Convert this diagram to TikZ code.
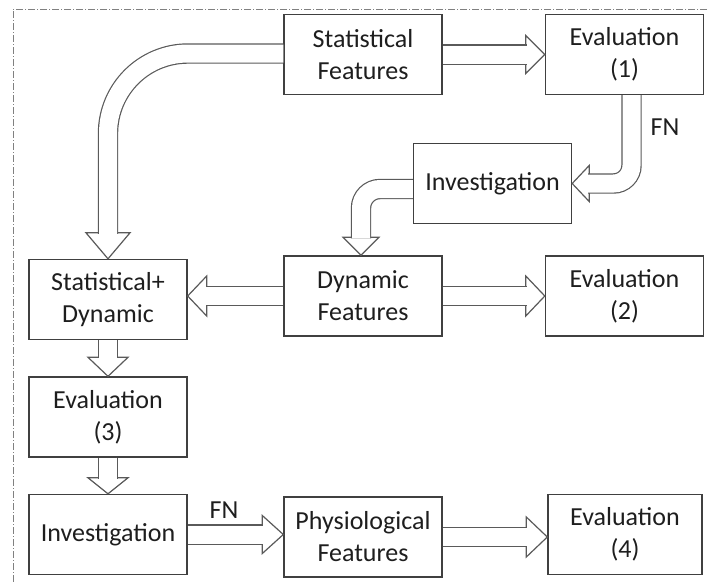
\documentclass[tikz,border=0pt]{standalone}
\usepackage{fontspec}
\setmainfont{Carlito}
\usetikzlibrary{calc}

\definecolor{boxline}{HTML}{404040}
\definecolor{arrowline}{HTML}{5A5A5A}
\definecolor{textgray}{HTML}{1E1E1E}

\tikzset{
  box/.style={draw=boxline, line width=1.4pt, fill=white, minimum width=158pt,
    minimum height=80pt, align=center, inner sep=2pt, text=textgray,
    font=\fontsize{26}{32}\selectfont},
  shaft/.style={draw=arrowline, line width=1.2pt, double=white, double distance=18pt},
  lbl/.style={text=textgray, font=\fontsize{26}{32}\selectfont},
  pics/head/.style 2 args={code={
    \draw[arrowline, line width=1.2pt, fill=white] (0,0) -- (-#1,#2) -- (-#1,-#2) -- cycle;}}
}

\begin{document}
\begin{tikzpicture}[x=1pt, y=-1pt]
    \useasboundingbox (0,0) rectangle (707,582);
    % dash-dot frame
    \draw[gray, line width=0.8pt, dash pattern=on 7pt off 2pt on 1pt off 2pt] (707,9) -- (13,9) -- (13,582);

    \node[box] (sf)   at (363,54.5)  {Statistical\\Features};
    \node[box] (ev1)  at (624.5,54.5) {Evaluation\\(1)};
    \node[box] (inv1) at (492.5,183.5) {Investigation};
    \node[box] (dyn)  at (363,296)   {Dynamic\\Features};
    \node[box] (ev2)  at (624.5,296) {Evaluation\\(2)};
    \node[box] (sd)   at (108,299.5) {Statistical+\\Dynamic};
    \node[box] (ev3)  at (108,417)   {Evaluation\\(3)};
    \node[box] (inv2) at (108,534.5) {Investigation};
    \node[box] (phy)  at (363,537)   {Physiological\\Features};
    \node[box, minimum width=154pt] (ev4) at (625,534.5) {Evaluation\\(4)};

    % arrow heads
    \pic at (ev1.west) {head={19}{19}};
    \pic[rotate=180] at (inv1.east) {head={17}{18}};
    \pic[rotate=-90] at ($(dyn.north)+(-2,0)$) {head={18}{18}};
    \pic[rotate=-90] at (sd.north) {head={26}{22}};
    \pic[rotate=180] at (dyn.west -| sd.east) {head={19}{20}};
    \pic at (ev2.west) {head={19}{20}};
    \pic[rotate=-90] at (ev3.north) {head={19}{20}};
    \pic[rotate=-90] at (inv2.north) {head={16}{20}};
    \pic at (inv2.east -| phy.west) {head={21}{19}};
    \pic at (phy.east -| ev4.west) {head={21}{20}};

    % shafts
    \draw[shaft] (sf.east) -- ($(ev1.west)+(-18,0)$);
    \draw[shaft, rounded corners=18pt] ($(ev1.south)+(7,0)$) |- ($(inv1.east)+(16,0)$);
    \draw[shaft, rounded corners=19pt] ($(inv1.west)+(0,5.5)$) -| ($(dyn.north)+(-2,-17)$);
    \draw[shaft, rounded corners=80pt] ($(sf.west)+(0,-1)$) -| ($(sd.north)+(0,-25)$);
    \draw[shaft] (dyn.west) -- ($(dyn.west -| sd.east)+(18,0)$);
    \draw[shaft] (dyn.east) -- ($(ev2.west)+(-18,0)$);
    \draw[shaft] (sd.south) -- ($(ev3.north)+(0,-18)$);
    \draw[shaft] (ev3.south) -- ($(inv2.north)+(0,-15)$);
    \draw[shaft] (inv2.east) -- ($(inv2.east -| phy.west)+(-20,0)$);
    \draw[shaft] (phy.east) -- ($(phy.east -| ev4.west)+(-20,0)$);

    \node[lbl] (fn1) at (665,127) {FN};
    \node[lbl] (fn2) at (224,510) {FN};
\end{tikzpicture}
\end{document}
